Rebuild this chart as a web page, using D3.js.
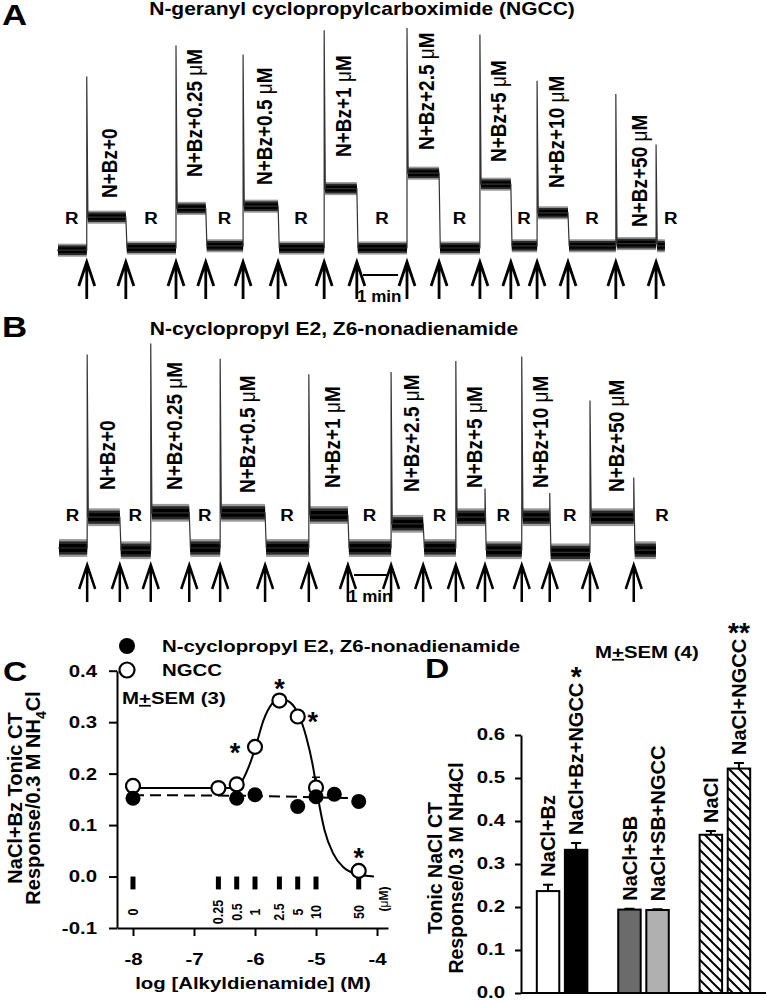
<!DOCTYPE html>
<html>
<head>
<meta charset="utf-8">
<script src="https://cdn.jsdelivr.net/npm/d3@7"></script>
<style>
  body { margin: 0; background: #fff; }
  svg { display: block; font-family: "Liberation Sans", Arial, sans-serif; font-weight: bold; }
</style>
</head>
<body>
<svg id="fig" width="766" height="1001"></svg>
<script>
// ---------- panels A / B : chorda tympani traces
// each entry is a solution change (time in s); level = tonic response, peak = phasic spike,
// both in % of the largest spike of the record. Last entry is the end of the record.
const concLabels = ["0", "0.25", "0.5", "1", "2.5", "5", "10", "50"];

const traceA_t    = [0, 51, 118, 204, 255, 319, 379, 458, 514, 600, 655, 725, 778, 823, 876, 958, 1027, 1042];
const traceA_lvl  = [-1, 14, 0, 18, 1, 19, 0, 27, 0, 34, 0, 29, 1, 16, 1, 2, 1, 1];
const traceA_peak = [null, 78, null, 92, null, 88, null, 99, null, 100, null, 97, null, 76, null, 70, 47, null];

const traceB_t    = [0, 50, 106, 159, 225, 278, 355, 430, 497, 571, 626, 682, 732, 795, 843, 912, 987, 1025];
const traceB_lvl  = [0, 14, -1, 16, 0, 16, 0, 15, 0, 11, 0, 14, -1, 14, -2, 14, -1, -1];
const traceB_peak = [null, 88, null, 93, null, 86, null, 79, null, 80, null, 85, 27, 87, 25, 67, 32, null];

// ---------- panel C : dose response (log M; the 0 dose is drawn at -8)
const concLogM  = [-8, -6.6, -6.3, -6, -5.6, -5.3, -5, -4.3];
const ngccMean  = [0.176, 0.172, 0.179, 0.252, 0.342, 0.311, 0.173, 0.011];
const ngccSem   = [0.004, 0.004, 0.004, 0.006, 0.005, 0.009, 0.02, 0.006];
const ngccStar  = [false, false, false, true, true, true, false, true];
const nonaLogM  = [-8, -6.3, -6, -5.3, -5, -4.7, -4.3];
const nonaMean  = [0.152, 0.152, 0.159, 0.136, 0.155, 0.160, 0.146];
const nonaSem   = [0.004, 0.004, 0.004, 0.005, 0.005, 0.004, 0.004];
const ngccFitX  = [-8, -6.4, -6.24, -6.1, -5.99, -5.86, -5.72, -5.59, -5.43, -5.28, -5.16, -5.05, -4.97, -4.86, -4.72, -4.56, -4.34, -4.05];
const ngccFitY  = [0.172, 0.172, 0.181, 0.214, 0.252, 0.304, 0.336, 0.346, 0.339, 0.313, 0.271, 0.214, 0.155, 0.090, 0.045, 0.019, 0.005, 0.0];
const nonaFitX  = [-8, -6.3, -5, -4.3];
const nonaFitY  = [0.158, 0.157, 0.154, 0.152];

// ---------- panel D : bars
const barNames = ["NaCl+Bz", "NaCl+Bz+NGCC", "NaCl+SB", "NaCl+SB+NGCC", "NaCl", "NaCl+NGCC"];
const barGroup = ["Bz", "Bz", "SB", "SB", "none", "none"];
const barMean  = [0.237, 0.333, 0.194, 0.193, 0.368, 0.522];
const barSem   = [0.015, 0.016, 0.002, 0.002, 0.009, 0.013];
const barStars = ["", "*", "", "", "", "**"];

const SX = 1.2;   // the figure is a bit wider than tall: stretch text horizontally
const svg = d3.select("#fig");
svg.append("rect").attr("width", 766).attr("height", 1001).attr("fill", "#fff");

const defs = svg.append("defs");
defs.append("pattern").attr("id", "hatch").attr("patternUnits", "userSpaceOnUse")
  .attr("width", 10).attr("height", 10)
  .call(p => p.append("rect").attr("width", 10).attr("height", 10).attr("fill", "#fff"))
  .call(p => p.append("path").attr("d", "M-2,-2 L12,12 M-2,8 L2,12 M8,-2 L12,2")
    .attr("stroke", "#000").attr("stroke-width", 2));

function label(g, x, y, str, o = {}) {
  const t = g.append("text")
    .attr("transform", `translate(${x},${y}) scale(${o.sx ?? SX},1)` + (o.rot ? ` rotate(${o.rot})` : ""))
    .attr("font-size", o.size || 17)
    .attr("text-anchor", o.anchor || "start");
  if (o.dy) t.attr("dy", o.dy);
  if (str != null) t.text(str);
  return t;
}

function stretchTicks(g) {
  g.selectAll(".tick text").each(function () {
    const t = d3.select(this);
    const x = +t.attr("x") || 0, y = +t.attr("y") || 0;
    t.attr("x", null).attr("y", null).attr("transform", `translate(${x},${y}) scale(${SX},1)`);
  });
}

// ================= trace panels
function drawTrace(c) {
  const g = svg.append("g");
  const x = d3.scaleLinear().domain([0, 60]).range([c.x0, c.x0 + 35]);   // 1 min = 35 px
  const y = d3.scaleLinear().domain([0, 100]).range(c.yRange);
  const n = c.t.length;
  const segs = d3.range(n - 1).map(i => ({ t0: c.t[i], t1: c.t[i + 1], v: c.lvl[i] }));

  // noisy tonic bands: soft fringe, dark body, black core
  [[1.35, "#9a9a9a"], [1, "#2a2a2a"], [0.6, "#000"]].forEach(([k, col]) => {
    g.append("g").selectAll("rect").data(segs).join("rect")
      .attr("x", d => x(d.t0) + 1)
      .attr("width", d => x(d.t1) - x(d.t0) - 1)
      .attr("y", d => y(d.v + c.noise * k))
      .attr("height", d => y(d.v - c.noise * k) - y(d.v + c.noise * k))
      .attr("fill", col);
  });

  // steps and phasic spikes
  const pts = [[c.t[0], c.lvl[0]]];
  for (let i = 1; i < n; i++) {
    pts.push([c.t[i], c.lvl[i - 1]]);
    if (i < n - 1) {
      if (c.peak[i] != null) pts.push([c.t[i], c.peak[i]]);
      pts.push([c.t[i] + 2, c.lvl[i]]);
    }
  }
  g.append("path").attr("d", d3.line().x(d => x(d[0])).y(d => y(d[1]))(pts))
    .attr("fill", "none").attr("stroke", "#333").attr("stroke-width", 1.2);

  // arrows at each solution change
  const tips = c.t.slice(1, n - 1);
  g.append("g").selectAll("path").data(tips).join("path")
    .attr("d", d => `M${x(d)},${c.arrowY}V${c.arrowY + 37}M${x(d) - 8},${c.arrowY + 24}L${x(d)},${c.arrowY}L${x(d) + 8},${c.arrowY + 24}`)
    .attr("fill", "none").attr("stroke", "#000").attr("stroke-width", c.arrowW);

  // R (rinse) labels in the middle of each rinse period
  const rinse = segs.filter((d, i) => i % 2 === 0);
  rinse.forEach((d, i) => {
    const xm = i === rinse.length - 1 ? x(d.t1) + 6 : (x(d.t0) + x(d.t1)) / 2;
    label(g, xm, c.rY, "R", { anchor: "middle", sx: 1.1 });
  });

  // stimulus labels
  segs.filter((d, i) => i % 2 === 1).forEach((d, i) => {
    const xm = (x(d.t0) + x(d.t1)) / 2 + c.lblDx;
    const t = label(g, xm, c.lblBottom[i], null, { rot: -90, size: 19, dy: "0.35em" });
    t.append("tspan").text("N+Bz+" + concLabels[i]);
    if (i > 0) {
      t.append("tspan").text(" ");
      t.append("tspan").attr("font-weight", "normal").text("μ");
      t.append("tspan").text("M");
    }
  });

  // 1 min scale bar
  g.append("line").attr("x1", c.barX).attr("x2", c.barX + x(60) - x(0))
    .attr("y1", c.barY).attr("y2", c.barY).attr("stroke", "#000").attr("stroke-width", 2);
  label(g, c.barX - 6, c.barY + 27, "1 min", { sx: 1 });

  label(g, 2, c.letterY, c.letter, { size: 29 });
  label(g, c.titleX, c.titleY, c.title, { anchor: "middle", size: 17.5 });
}

drawTrace({
  letter: "A", letterY: 25, title: "N-geranyl cyclopropylcarboximide (NGCC)", titleX: 362, titleY: 15,
  t: traceA_t, lvl: traceA_lvl, peak: traceA_peak,
  x0: 57, yRange: [248, 28], noise: 2.2,
  arrowY: 262, arrowW: 2.8, rY: 224, lblDx: 3,
  lblBottom: [198, 177, 185, 157, 150, 162, 188, 227],
  barX: 363, barY: 275
});

drawTrace({
  letter: "B", letterY: 337, title: "N-cyclopropyl E2, Z6-nonadienamide", titleX: 334, titleY: 335,
  t: traceB_t, lvl: traceB_lvl, peak: traceB_peak,
  x0: 58, yRange: [548, 328], noise: 3.0,
  arrowY: 565, arrowW: 2.5, rY: 521, lblDx: 4,
  lblBottom: [490, 490, 493, 488, 492, 488, 488, 492],
  barX: 354, barY: 575
});

// ================= panel C
{
  const g = svg.append("g");
  const x = d3.scaleLinear().domain([-8.262, -3.82]).range([117, 388]);
  const y = d3.scaleLinear().domain([-0.1, 0.4]).range([928, 670.7]);

  const ya = g.append("g").attr("transform", "translate(117,0)")
    .call(d3.axisLeft(y).tickValues([-0.1, 0, 0.1, 0.2, 0.3, 0.4]).tickFormat(d => d.toFixed(1))
      .tickSize(8).tickSizeOuter(0).tickPadding(12));
  const xa = g.append("g").attr("transform", "translate(0,928)")
    .call(d3.axisBottom(x).tickValues([-8, -7, -6, -5, -4]).tickFormat(d => String(d))
      .tickSize(8).tickSizeOuter(0).tickPadding(17));
  [ya, xa].forEach(a => {
    a.selectAll("path,line").attr("stroke", "#000").attr("stroke-width", 2);
    a.selectAll("text").attr("font-size", 17).attr("font-family", null).attr("fill", "#000");
    stretchTicks(a);
  });

  // dose marks along the zero line
  g.append("g").selectAll("rect").data(concLogM).join("rect")
    .attr("x", d => x(d) - 2.5).attr("width", 5)
    .attr("y", y(0)).attr("height", y(-0.025) - y(0)).attr("fill", "#000");
  concLabels.forEach((s, i) => label(g, x(concLogM[i]), 912, s, { rot: -90, size: 12.5, anchor: "middle", dy: "0.35em", sx: 1.15 }));
  const um = label(g, x(-3.9), 899, null, { rot: -90, size: 12, anchor: "middle", dy: "0.35em", sx: 1.1 });
  um.append("tspan").text("(");
  um.append("tspan").attr("font-weight", "normal").text("μ");
  um.append("tspan").text("M)");

  // fitted curves
  const line = d3.line().x(d => x(d[0])).y(d => y(d[1])).curve(d3.curveMonotoneX);
  g.append("path").attr("d", line(ngccFitX.map((v, i) => [v, ngccFitY[i]])))
    .attr("fill", "none").attr("stroke", "#000").attr("stroke-width", 2);
  g.append("path").attr("d", line(nonaFitX.map((v, i) => [v, nonaFitY[i]])))
    .attr("fill", "none").attr("stroke", "#000").attr("stroke-width", 2).attr("stroke-dasharray", "11,6");

  // error bars
  const eb = (xs, ms, ss) => xs.map((v, i) => ({ x: v, m: ms[i], s: ss[i] }));
  g.append("g").selectAll("path").data(eb(concLogM, ngccMean, ngccSem).concat(eb(nonaLogM, nonaMean, nonaSem))).join("path")
    .attr("d", d => `M${x(d.x)},${y(d.m)}V${y(d.m + d.s)}M${x(d.x) - 4},${y(d.m + d.s)}H${x(d.x) + 4}`)
    .attr("stroke", "#000").attr("stroke-width", 1.5).attr("fill", "none");

  // points
  g.append("g").selectAll("circle").data(concLogM).join("circle")
    .attr("cx", d => x(d)).attr("cy", (d, i) => y(ngccMean[i])).attr("r", 7)
    .attr("fill", "#fff").attr("stroke", "#000").attr("stroke-width", 2.2);
  g.append("g").selectAll("circle").data(nonaLogM).join("circle")
    .attr("cx", d => x(d)).attr("cy", (d, i) => y(nonaMean[i])).attr("r", 7.5).attr("fill", "#000");

  // significance stars
  const starOff = { 3: [-20, 0], 4: [0, -18], 5: [15, 0], 7: [0, -19] };
  concLogM.forEach((v, i) => {
    if (!ngccStar[i]) return;
    const [dx, dy] = starOff[i];
    label(g, x(v) + dx, y(ngccMean[i]) + dy + 15, "*", { size: 27, anchor: "middle", sx: 1 });
  });

  // legend
  g.append("circle").attr("cx", 127).attr("cy", 646).attr("r", 8).attr("fill", "#000");
  g.append("circle").attr("cx", 127).attr("cy", 670).attr("r", 7.5).attr("fill", "#fff")
    .attr("stroke", "#000").attr("stroke-width", 2.2);
  label(g, 162, 652, "N-cyclopropyl E2, Z6-nonadienamide");
  label(g, 162, 676, "NGCC");
  const ms = label(g, 122, 704, null);
  ms.append("tspan").text("M");
  ms.append("tspan").attr("text-decoration", "underline").text("+");
  ms.append("tspan").text("SEM (3)");

  label(g, 3, 681, "C", { size: 28 });
  label(g, 15, 798, "NaCl+Bz Tonic CT", { rot: -90, size: 20, anchor: "middle", dy: "0.35em", sx: 1.05 });
  const yl = label(g, 33, 798, null, { rot: -90, size: 20, anchor: "middle", dy: "0.35em", sx: 1.05 });
  yl.append("tspan").text("Response/0.3 M NH");
  yl.append("tspan").attr("font-size", 14).attr("dy", 5).text("4");
  yl.append("tspan").attr("dy", -5).text("Cl");
  label(g, 253, 989, "log [Alkyldienamide] (M)", { anchor: "middle" });
}

// ================= panel D
{
  const g = svg.append("g");
  const y = d3.scaleLinear().domain([0, 0.6]).range([993, 735]);
  const xg = d3.scaleBand().domain(["Bz", "SB", "none"]).range([534, 753]).paddingInner(0.31).paddingOuter(0);
  const xi = d3.scaleBand().domain([0, 1]).range([0, xg.bandwidth()]).paddingInner(0.2).paddingOuter(0.1);
  const fills = ["#fff", "#000", "#6b6b6b", "#b0b0b0", "url(#hatch)", "url(#hatch)"];
  const bars = barNames.map((nme, i) => ({
    name: nme, m: barMean[i], s: barSem[i], star: barStars[i], fill: fills[i],
    x: xg(barGroup[i]) + xi(barGroup.slice(0, i).filter(gg => gg === barGroup[i]).length)
  }));
  const bw = xi.bandwidth();

  const ya = g.append("g").attr("transform", "translate(521,0)")
    .call(d3.axisLeft(y).tickValues([0, 0.1, 0.2, 0.3, 0.4, 0.5, 0.6]).tickFormat(d => d.toFixed(1))
      .tickSize(6).tickSizeOuter(0).tickPadding(10));
  ya.selectAll("path,line").attr("stroke", "#000").attr("stroke-width", 2);
  ya.selectAll("text").attr("font-size", 17).attr("font-family", null).attr("fill", "#000").attr("dy", "0.24em");
  stretchTicks(ya);

  // error bars (behind the bars)
  g.append("g").selectAll("path").data(bars).join("path")
    .attr("d", d => `M${d.x + bw / 2},${y(d.m)}V${y(d.m + d.s)}M${d.x + bw / 2 - 5},${y(d.m + d.s)}H${d.x + bw / 2 + 5}`)
    .attr("stroke", "#000").attr("stroke-width", 2).attr("fill", "none");
  g.append("g").selectAll("rect").data(bars).join("rect")
    .attr("x", d => d.x).attr("width", bw).attr("y", d => y(d.m)).attr("height", d => y(0) - y(d.m))
    .attr("fill", d => d.fill).attr("stroke", "#000").attr("stroke-width", 2);

  g.append("line").attr("x1", 521).attr("x2", 766).attr("y1", y(0)).attr("y2", y(0))
    .attr("stroke", "#000").attr("stroke-width", 2);

  bars.forEach(d => {
    const yb = y(d.m + d.s) - 8;
    const t = label(g, d.x + bw / 2, yb, d.name, { rot: -90, size: 20, dy: "0.35em", sx: 1.05 });
    if (d.star) {
      const top = yb - t.node().getComputedTextLength();
      label(g, d.x + bw / 2, top - 12 + 15, d.star, { size: 28, anchor: "middle", sx: 1 });
    }
  });

  const ms = label(g, 595, 658, null);
  ms.append("tspan").text("M");
  ms.append("tspan").attr("text-decoration", "underline").text("+");
  ms.append("tspan").text("SEM (4)");
  label(g, 425, 678, "D", { size: 28 });
  label(g, 435, 868, "Tonic NaCl CT", { rot: -90, size: 19.5, anchor: "middle", dy: "0.35em", sx: 1.05 });
  label(g, 456, 868, "Response/0.3 M NH4Cl", { rot: -90, size: 19.5, anchor: "middle", dy: "0.35em", sx: 1.05 });
}
</script>
</body>
</html>
